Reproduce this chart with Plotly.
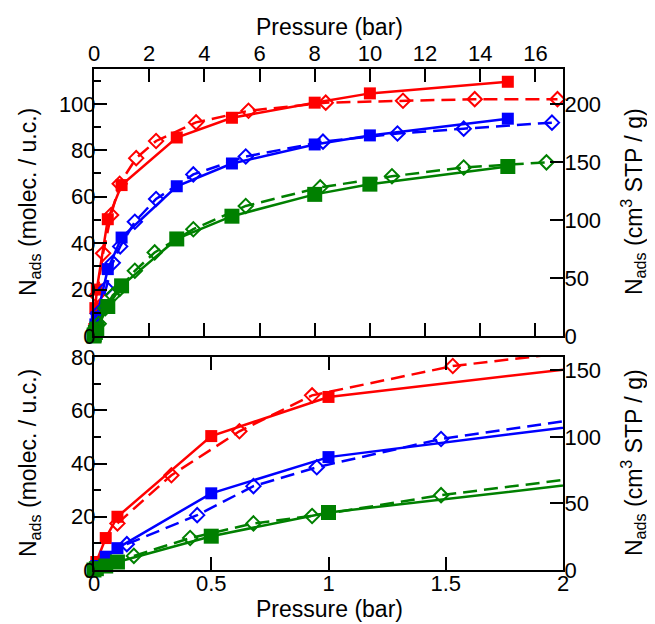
import plotly.graph_objects as go
import numpy as np

# ---- data (N_ads in molecules / unit cell, P in bar) ----
sq_p = [0, 0.01, 0.05, 0.1, 0.5, 1, 3, 5, 8, 10, 15]
red_sq = [0, 3, 12, 20, 50.3, 65, 85.5, 94, 100.5, 104.5, 109.5]
blue_sq = [0, 1.5, 5, 8.2, 28.8, 42.4, 64.5, 74.3, 82.5, 86.4, 93.6]
green_sq = [0, 0.5, 1.5, 3, 12.7, 21.6, 41.8, 51.6, 61, 65.4, 73]

red_dia_p = [0.1, 0.33, 0.62, 0.93, 1.53, 2.25, 3.7, 5.6, 8.4, 11.2, 13.8, 16.8]
red_dia = [17.5, 35.6, 52.1, 65.6, 76.6, 84, 92, 97, 100.5, 101.3, 102, 102]
blue_dia_p = [0.14, 0.44, 0.68, 0.95, 1.48, 2.25, 3.6, 5.5, 8.3, 11.0, 13.4, 16.6]
blue_dia = [9.7, 20.6, 31.5, 38.6, 49.2, 59, 69.6, 77.3, 83.7, 87.2, 89.3, 91.9]
green_dia_p = [0.17, 0.41, 0.68, 0.93, 1.48, 2.2, 3.6, 5.5, 8.2, 10.8, 13.4, 16.4]
green_dia = [5.3, 12, 17.5, 20.3, 28.1, 36.0, 46, 56, 64, 68.8, 72.6, 74.8]

top_xticks = [0, 2, 4, 6, 8, 10, 12, 14, 16]
bot_xticks = [0, 0.5, 1, 1.5, 2]
conv = 2.0  # cm3 STP/g per molecule/u.c.

x_title = "Pressure (bar)"
yl_title = "N<sub>ads</sub> (molec. / u.c.)"
yr_title = "N<sub>ads</sub> (cm<sup>3</sup> STP / g)"

RED, BLUE, GREEN = "#ff0000", "#0000ff", "#008000"

series = [
    (red_dia_p, red_dia, sq_p, red_sq, RED, 12),
    (blue_dia_p, blue_dia, sq_p, blue_sq, BLUE, 12),
    (green_dia_p, green_dia, sq_p, green_sq, GREEN, 15),
]

fig = go.Figure()

panels = [("x", "y", 17), ("x2", "y3", 2)]
for xa, ya, xmax in panels:
    for dp, dv, sp, sv, col, sqsize in series:
        fig.add_trace(go.Scatter(x=dp, y=dv, mode="lines", xaxis=xa, yaxis=ya,
                                 line=dict(color=col, width=2.5, dash="14px,7px"),
                                 showlegend=False, hoverinfo="skip"))
        dpa, dva = np.array(dp), np.array(dv)
        m = dpa <= xmax
        fig.add_trace(go.Scatter(x=dpa[m], y=dva[m], mode="markers", xaxis=xa, yaxis=ya,
                                 marker=dict(symbol="diamond-open", size=11, color=col,
                                             line=dict(width=2, color=col)),
                                 cliponaxis=False, showlegend=False))
        fig.add_trace(go.Scatter(x=sp, y=sv, mode="lines", xaxis=xa, yaxis=ya,
                                 line=dict(color=col, width=2.5),
                                 showlegend=False, hoverinfo="skip"))
        spa, sva = np.array(sp), np.array(sv)
        m = spa <= xmax
        fig.add_trace(go.Scatter(x=spa[m], y=sva[m], mode="markers", xaxis=xa, yaxis=ya,
                                 marker=dict(symbol="square", size=sqsize, color=col),
                                 cliponaxis=False, showlegend=False))

# empty traces so the right-hand unit axes are drawn
fig.add_trace(go.Scatter(x=[], y=[], xaxis="x", yaxis="y2", showlegend=False))
fig.add_trace(go.Scatter(x=[], y=[], xaxis="x2", yaxis="y4", showlegend=False))

FONT = "Liberation Sans, Arial, sans-serif"
common = dict(showline=True, linecolor="black", linewidth=2, ticks="inside",
              ticklen=13, tickwidth=2, tickcolor="black", showgrid=False,
              zeroline=False, tickfont=dict(size=22, color="black", family=FONT),
              automargin=False)
minor = dict(ticks="inside", dtick=10, ticklen=7, tickwidth=2, tickcolor="black")
tfont = dict(size=23, color="black", family=FONT)

# page body has an 8px margin: compensate so the plot area sits at 94..563 x 69..570
PW, PH = 469.0, 501.0
top_dom = [(570 - 336) / PH, 1.0]
bot_dom = [0.0, (570 - 357) / PH]

def px_x(px):
    return (px - 94) / PW

def px_y(py):
    return (570 - py) / PH

fig.update_layout(
    width=647, height=616,
    margin=dict(l=86, r=92, t=61, b=54),
    paper_bgcolor="white", plot_bgcolor="white",
    font=dict(family=FONT, color="black"),
    showlegend=False,
    xaxis=dict(**common, side="top", range=[0, 17], tickvals=top_xticks,
               mirror="ticks", anchor="y", ticklabelstandoff=-3),
    yaxis=dict(**common, domain=top_dom, range=[0, 115], dtick=20, minor=minor,
               anchor="x", ticklabelstandoff=-8),
    yaxis2=dict(**common, domain=top_dom, overlaying="y", side="right",
                range=[0, 115 * conv], dtick=50, anchor="x", ticklabelstandoff=-5),
    xaxis2=dict(**common, side="bottom", range=[0, 2], tickvals=bot_xticks,
                mirror="ticks", anchor="y3", ticklabelstandoff=-7),
    yaxis3=dict(**common, domain=bot_dom, range=[0, 80], dtick=20, minor=minor,
                anchor="x2", ticklabelstandoff=-8),
    yaxis4=dict(**common, domain=bot_dom, overlaying="y3", side="right",
                range=[0, 80 * conv], dtick=50, anchor="x2", ticklabelstandoff=-5),
)

titles = [
    (x_title, px_x(329), px_y(27), 0),
    (x_title, px_x(329), px_y(609), 0),
    (yl_title, px_x(29), px_y(202), -90),
    (yl_title, px_x(29), px_y(463), -90),
    (yr_title, px_x(633), px_y(202), -90),
    (yr_title, px_x(633), px_y(463), -90),
]
for txt, ax_, ay_, ang in titles:
    fig.add_annotation(text=txt, x=ax_, y=ay_, xref="paper", yref="paper",
                       xanchor="center", yanchor="middle", textangle=ang,
                       showarrow=False, font=tfont)

fig.write_html("out.html")
